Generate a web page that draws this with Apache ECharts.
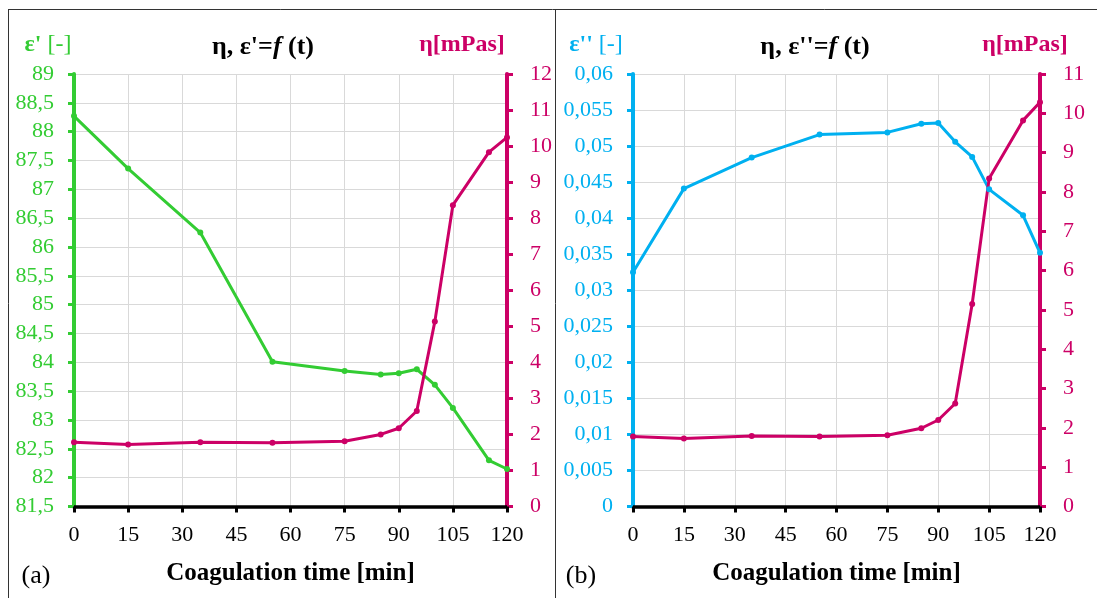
<!DOCTYPE html>
<html><head><meta charset="utf-8">
<script src="https://cdn.jsdelivr.net/npm/echarts@6/dist/echarts.min.js"></script>
<style>html,body{margin:0;padding:0;background:#fff}#c{width:1097px;height:598px}</style>
</head><body><div id="c"></div>
<script>
// ---- data ----
const time = [0, 15, 35, 55, 75, 85, 90, 95, 100, 105, 115, 120];
const epsPrime = [88.27, 87.36, 86.25, 84.01, 83.85, 83.79, 83.81, 83.88, 83.61, 83.21, 82.30, 82.15];
const etaA = [1.78, 1.72, 1.78, 1.77, 1.81, 2.00, 2.17, 2.65, 5.13, 8.36, 9.83, 10.24];
const epsDouble = [0.0325, 0.0441, 0.0484, 0.0516, 0.0519, 0.0531, 0.0532, 0.0506, 0.0485, 0.0440, 0.0404, 0.0352];
const etaB = [1.78, 1.73, 1.79, 1.78, 1.81, 1.99, 2.20, 2.62, 5.15, 8.34, 9.82, 10.28];
const xLabelName = 'Coagulation time [min]';

const FONT = '"Liberation Serif", "Times New Roman", serif';
const GREEN = '#33CC33', MAG = '#CC0066', BLUE = '#00B0F0';
const comma = v => String(+v.toFixed(6)).replace('.', ',');
const pairs = (xs, ys) => xs.map((x, i) => [x, ys[i]]);

function xAx(gi) {
  return {
    type: 'value', gridIndex: gi, min: 0, max: 120, interval: 15,
    axisLine: { show: true, onZero: false, lineStyle: { color: '#000', width: 3.5 } },
    axisTick: { show: true, length: 6, lineStyle: { color: '#000', width: 3 } },
    axisLabel: { color: '#000', fontFamily: FONT, fontSize: 22, margin: 18 },
    splitLine: { show: true, lineStyle: { color: '#D9D9D9', width: 1 } },
    name: xLabelName, nameLocation: 'middle', nameGap: 55,
    nameTextStyle: { fontFamily: FONT, fontSize: 25, fontWeight: 'bold', color: '#000' }
  };
}
function yAx(gi, pos, min, max, interval, color, split) {
  return {
    type: 'value', gridIndex: gi, position: pos, min, max, interval,
    axisLine: { show: true, onZero: false, lineStyle: { color, width: 4 } },
    axisTick: { show: true, length: 6, lineStyle: { color, width: 3 } },
    axisLabel: { color, fontFamily: FONT, fontSize: 22, margin: pos === 'left' ? 20 : 23, formatter: comma },
    splitLine: { show: split, lineStyle: { color: '#D9D9D9', width: 1 } }
  };
}
function ser(xi, yi, data, color) {
  return {
    type: 'line', xAxisIndex: xi, yAxisIndex: yi, data,
    symbol: 'circle', symbolSize: 6, showSymbol: true,
    lineStyle: { color, width: 3 }, itemStyle: { color }, z: 3
  };
}
function txt(x, y, text, fill, rich, align) {
  return {
    type: 'text', x, y, z: 10,
    style: { text, fill, textAlign: align || 'center', textVerticalAlign: 'middle', rich,
      font: 'bold 24px ' + FONT }
  };
}
const titleRich = {
  b: { fontFamily: FONT, fontSize: 26, fontWeight: 'bold', fill: '#000', color: '#000' },
  i: { fontFamily: FONT, fontSize: 26, fontWeight: 'bold', fontStyle: 'italic', fill: '#000', color: '#000' }
};
function unitRich(color) {
  return {
    b: { fontFamily: FONT, fontSize: 24, fontWeight: 'bold', color, fill: color },
    n: { fontFamily: FONT, fontSize: 24, fontWeight: 'normal', color, fill: color }
  };
}

const chart = echarts.init(document.getElementById('c'));
chart.setOption({
  animation: false,
  backgroundColor: '#fff',
  grid: [
    { left: 74, right: 590, top: 74, bottom: 91.5, containLabel: false, outerBoundsMode: 'none' },
    { left: 633, right: 57, top: 74, bottom: 91.5, containLabel: false, outerBoundsMode: 'none' }
  ],
  xAxis: [xAx(0), xAx(1)],
  yAxis: [
    yAx(0, 'left', 81.5, 89, 0.5, GREEN, true),
    yAx(0, 'right', 0, 12, 1, MAG, false),
    yAx(1, 'left', 0, 0.06, 0.005, BLUE, true),
    yAx(1, 'right', 0, 11, 1, MAG, false)
  ],
  series: [
    ser(0, 0, pairs(time, epsPrime), GREEN),
    ser(0, 1, pairs(time, etaA), MAG),
    ser(1, 2, pairs(time, epsDouble), BLUE),
    ser(1, 3, pairs(time, etaB), MAG)
  ],
  graphic: [
    { type: 'line', shape: { x1: 8, y1: 9.5, x2: 1097, y2: 9.5 }, style: { stroke: '#333', lineWidth: 1 } },
    { type: 'line', shape: { x1: 8.5, y1: 9, x2: 8.5, y2: 598 }, style: { stroke: '#333', lineWidth: 1 } },
    { type: 'line', shape: { x1: 555.5, y1: 9, x2: 555.5, y2: 598 }, style: { stroke: '#333', lineWidth: 1 } },
    txt(263, 47, "{b|η, ε'=}{i|f}{b| (t)}", '#000', titleRich),
    txt(815, 47, "{b|η, ε''=}{i|f}{b| (t)}", '#000', titleRich),
    txt(48, 45, "{b|ε'} {n|[-]}", GREEN, unitRich(GREEN)),
    txt(596, 45, "{b|ε''} {n|[-]}", BLUE, unitRich(BLUE)),
    txt(462, 45, "η[mPas]", MAG, unitRich(MAG)),
    txt(1025, 45, "η[mPas]", MAG, unitRich(MAG)),
    { type: 'text', x: 36, y: 576, z: 10, style: { text: '(a)', fill: '#000', textAlign: 'center', textVerticalAlign: 'middle', font: '26px ' + FONT } },
    { type: 'text', x: 581, y: 576, z: 10, style: { text: '(b)', fill: '#000', textAlign: 'center', textVerticalAlign: 'middle', font: '26px ' + FONT } }
  ]
});
</script></body></html>
